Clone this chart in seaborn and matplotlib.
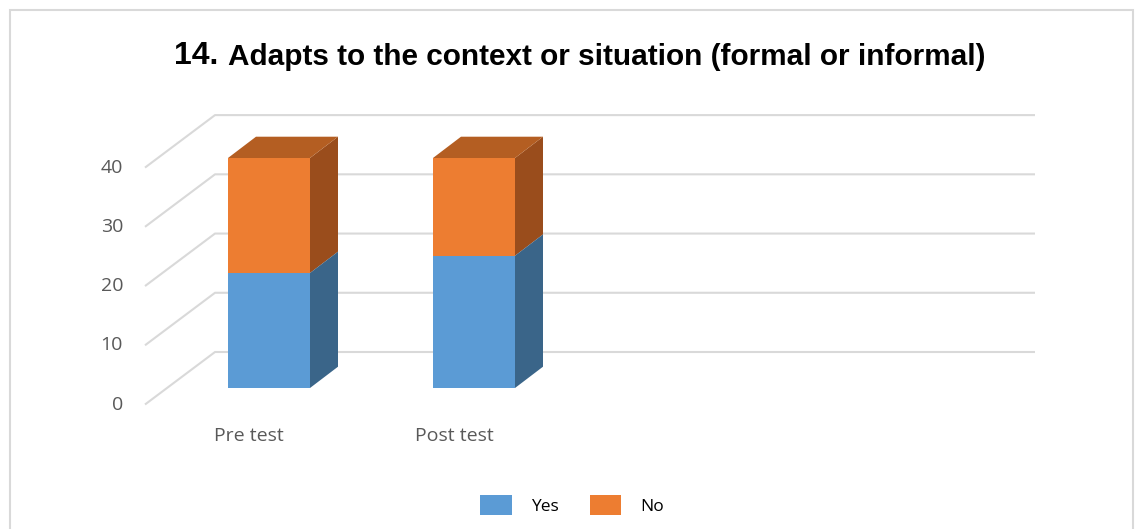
import matplotlib
matplotlib.use("Agg")
import matplotlib.pyplot as plt
from matplotlib.patches import Polygon, Rectangle, Patch
import seaborn as sns
import pandas as pd
import numpy as np

# ---- data ----
categories = ["Pre test", "Post test"]
yes_values = [20, 23]
no_values = [20, 17]
series_names = ["Yes", "No"]
y_ticks = [0, 10, 20, 30, 40]
title_num = "14."
title_text = "Adapts to the context or situation (formal or informal)"

# ---- style ----
c_yes, c_yes_side = "#5B9BD5", "#3A6589"
c_no, c_no_side, c_no_top = "#ED7D31", "#9A4D1C", "#B45E22"
grid_c = "#D9D9D9"
txt_c = "#595959"

sns.set_theme(style="white")
plt.rcParams["font.family"] = ["Open Sans", "DejaVu Sans"]

W, H = 1135, 529
fig = plt.figure(figsize=(W / 100, H / 100), dpi=100)
ax = fig.add_axes([0, 0, 1, 1])

# pixel mapping: category spacing 205 px, 5.75 px per unit, origin at (269, 388)
px_x, px_y = 205.0, 5.75
x0, y0 = 269.0, 388.0

# wall gridlines (oblique)
front_dx, front_dy = (145 - x0) / px_x, (y0 - 404.5) / px_y
back_dx, back_dy = (215 - x0) / px_x, (y0 - 352) / px_y
right_x = (1035 - x0) / px_x
k = 1.03
for v in y_ticks:
    fy = front_dy + v * k
    by = back_dy + v * k
    ax.plot([front_dx, back_dx, right_x], [fy, by, by], color=grid_c, lw=1.5,
            zorder=0, solid_capstyle="butt")
    ax.text(front_dx - 22 / px_x, fy, str(v), ha="right", va="center",
            color=txt_c, fontsize=14)

df = pd.DataFrame({"cat": categories,
                   "total": np.array(yes_values) + np.array(no_values),
                   "yes": yes_values})
bw = 82 / px_x
sns.barplot(data=df, x="cat", y="total", color=c_no, width=bw, ax=ax,
            saturation=1, zorder=3, linewidth=0)
sns.barplot(data=df, x="cat", y="yes", color=c_yes, width=bw, ax=ax,
            saturation=1, zorder=4, linewidth=0)
ax.set_xlim(-x0 / px_x, (W - x0) / px_x)
ax.set_ylim((y0 - H) / px_y, y0 / px_y)
ax.axis("off")

# 3D side and top faces
ddx, ddy = 28 / px_x, 21.3 / px_y
n = len(categories)
patches = list(ax.patches)
tot_patches, yes_patches = patches[:n], patches[n:2 * n]
for pt, py in zip(tot_patches, yes_patches):
    x1 = pt.get_x() + pt.get_width()
    xl = pt.get_x()
    t = pt.get_height()
    yv = py.get_height()
    ax.add_patch(Polygon([(x1, yv), (x1 + ddx, yv + ddy), (x1 + ddx, t + ddy), (x1, t)],
                         closed=True, fc=c_no_side, ec="none", zorder=2))
    ax.add_patch(Polygon([(x1, 0), (x1 + ddx, ddy), (x1 + ddx, yv + ddy), (x1, yv)],
                         closed=True, fc=c_yes_side, ec="none", zorder=2))
    ax.add_patch(Polygon([(xl, t), (xl + ddx, t + ddy), (x1 + ddx, t + ddy), (x1, t)],
                         closed=True, fc=c_no_top, ec="none", zorder=2))

# category labels
for i, c in enumerate(categories):
    ax.text(i - 20 / px_x, (y0 - 436) / px_y, c, ha="center", va="center",
            color=txt_c, fontsize=14)

# title
t1 = fig.text(174 / W, 1 - 56 / H, title_num, ha="left", va="center",
              fontsize=23, fontweight="bold", color="black",
              family=["Liberation Sans", "DejaVu Sans"])
fig.canvas.draw()
ax.annotate(title_text, xy=(1, 0.5), xycoords=t1, xytext=(7, -0.5),
            textcoords="offset points", ha="left", va="center",
            fontsize=21.4, fontweight="bold", color="black",
            family=["Liberation Sans", "DejaVu Sans"])

# legend
handles = [Patch(fc=c_yes, ec="none"), Patch(fc=c_no, ec="none")]
fig.legend(handles, series_names, loc="center", bbox_to_anchor=(572 / W, 1 - 505 / H),
           ncol=2, frameon=False, fontsize=12.5, handlelength=1.8, handleheight=1.4,
           columnspacing=1.8, handletextpad=1.1, labelcolor="black")

# outer border
fig.add_artist(Rectangle((10 / W, -0.01), (W - 12) / W, 1 - 10 / H + 0.01,
                         transform=fig.transFigure, fill=False, ec=grid_c, lw=1.5))

fig.savefig("out.png", dpi=100)
